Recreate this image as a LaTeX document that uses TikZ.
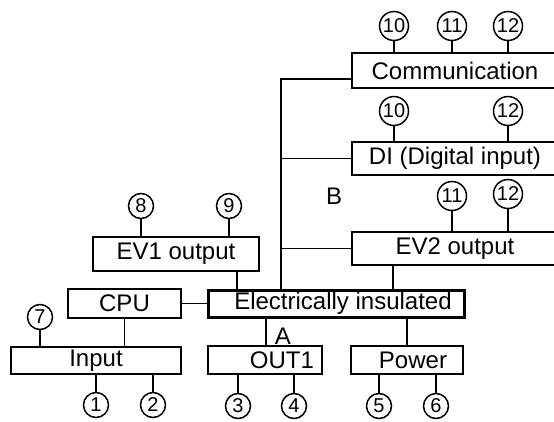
\documentclass[tikz,border=0pt]{standalone}
\usepackage{fontspec}
\setmainfont{Liberation Sans}
\begin{document}
\begin{tikzpicture}[x=1pt,y=-1pt,line width=1.5pt,
    box/.style={draw, rectangle, inner sep=0pt, font=\fontsize{24}{28}\selectfont},
    term/.style={draw, circle, inner sep=0pt, minimum size=25pt, font=\fontsize{20}{22}\selectfont},
    termw/.style={term, minimum size=29pt}]
        \useasboundingbox (0,0) rectangle (554,421);
        \clip (0,0) rectangle (554,421);
        \node (comm) [box, minimum width=206pt, minimum height=35pt] at (455,70.5) {Communication};
        \node (di) [box, minimum width=206pt, minimum height=33pt] at (455,158.5) {DI (Digital input)};
        \node (evtwo) [box, minimum width=206pt, minimum height=33pt] at (455,248.5) {EV2 output};
        \node (evone) [box, minimum width=166pt, minimum height=34pt] at (176,254) {EV1 output};
        \node (elec) [box, line width=3pt, minimum width=256pt, minimum height=27pt] at (336,303.5) {\hspace*{14pt}Electrically insulated};
        \node (cpu) [box, minimum width=113pt, minimum height=29pt] at (124.5,303.5) {CPU};
        \node (input) [box, minimum width=170pt, minimum height=27pt] at (96,360.5) {Input};
        \node (outone) [box, minimum width=114pt, minimum height=28pt] at (265,360) {\hspace*{34pt}OUT1};
        \node (power) [box, minimum width=112pt, minimum height=28pt] at (407,360) {\hspace*{12pt}Power};
        \node (lbla) [font=\fontsize{24}{28}\selectfont, inner sep=0pt] at (283,336) {A};
        \node (lblb) [font=\fontsize{24}{28}\selectfont, inner sep=0pt] at (334,196) {B};
        % terminals
        \node (ta10) [termw] at (394,26) {10};
        \node (ta11) [termw] at (452,26) {11};
        \node (ta12) [termw] at (508,26) {12};
        \node (tb10) [termw] at (394,111) {10};
        \node (tb12) [termw] at (508,111) {12};
        \node (tc11) [termw] at (452,196) {11};
        \node (tc12) [termw] at (508,194) {12};
        \node (t8) [term] at (141,206) {8};
        \node (t9) [term] at (229,206) {9};
        \node (t7) [term] at (40,317) {7};
        \node (t1) [term] at (96,405) {1};
        \node (t2) [term] at (153,405) {2};
        \node (t3) [term] at (238,406) {3};
        \node (t4) [term] at (294,406) {4};
        \node (t5) [term] at (379,406) {5};
        \node (t6) [term] at (436,406) {6};
        \coordinate (bustop) at (281,79);
        \draw (comm.west |- bustop) -- (bustop) -- (bustop |- elec.north);
        \draw (bustop |- di.west) -- (di.west);
        \draw (bustop |- evtwo.west) -- (evtwo.west);
        \draw ([xshift=61pt]evone.south) -- ([xshift=61pt]evone.south |- elec.north);
        \draw ([xshift=-62pt]evtwo.south) -- ([xshift=-62pt]evtwo.south |- elec.north);
        \draw (cpu.east) -- (elec.west);
        \draw (cpu.south) -- (cpu.south |- input.north);
        \draw ([xshift=1pt]outone.north) -- ([xshift=1pt]outone.north |- elec.south);
        \draw (power.north) -- (power.north |- elec.south);
        \foreach \t/\b in {ta10/comm,ta11/comm,ta12/comm,tb10/di,tb12/di,tc11/evtwo,tc12/evtwo,t8/evone,t9/evone,t7/input}
            \draw (\t.south) -- (\t.south |- \b.north);
        \foreach \t/\b in {t1/input,t2/input,t3/outone,t4/outone,t5/power,t6/power}
            \draw (\t.north) -- (\t.north |- \b.south);
    \end{tikzpicture}
\end{document}
